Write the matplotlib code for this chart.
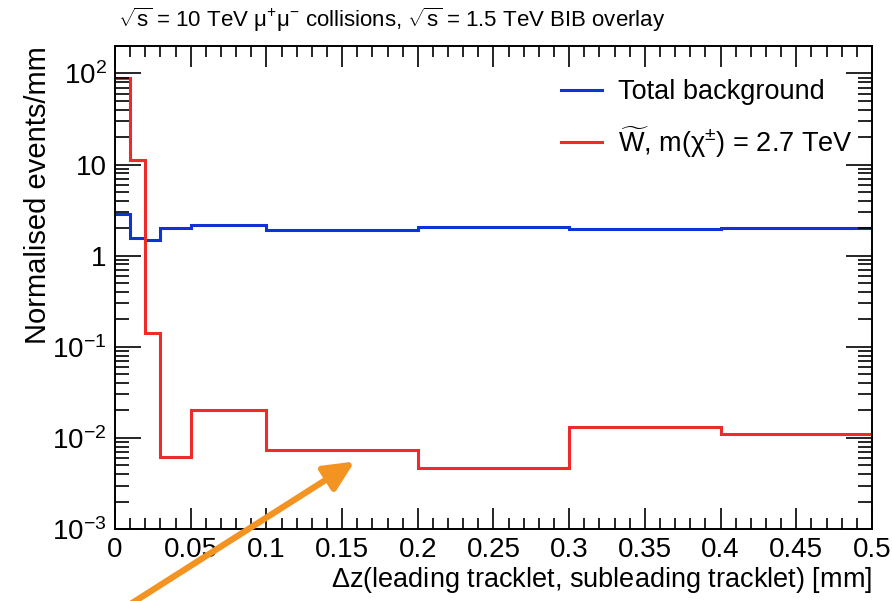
import matplotlib
matplotlib.use("Agg")
import matplotlib.pyplot as plt
from matplotlib.ticker import MultipleLocator, LogLocator, NullFormatter
import numpy as np

plt.rcParams['font.family'] = ['Liberation Sans', 'DejaVu Sans']
plt.rcParams['mathtext.fontset'] = 'custom'
plt.rcParams['mathtext.rm'] = 'Liberation Sans'
plt.rcParams['mathtext.it'] = 'Liberation Sans:italic'

# bin edges and contents
edges = [0, 0.01, 0.02, 0.03, 0.05, 0.1, 0.2, 0.3, 0.4, 0.5]
background = [2.87, 1.56, 1.50, 2.0, 2.15, 1.93, 2.08, 1.96, 2.0]
signal = [88, 11.1, 0.14, 0.0062, 0.020, 0.0073, 0.0047, 0.0131, 0.0109]

xticks = [0, 0.05, 0.1, 0.15, 0.2, 0.25, 0.3, 0.35, 0.4, 0.45, 0.5]
xticklabels = ['0', '0.05', '0.1', '0.15', '0.2', '0.25', '0.3', '0.35', '0.4', '0.45', '0.5']
yticks = [1e-3, 1e-2, 1e-1, 1, 10, 100]
yticklabels = [r'10$^{-3}$', r'10$^{-2}$', r'10$^{-1}$', '1', '10', r'10$^{2}$']

W, H = 892, 601
fig = plt.figure(figsize=(W / 100, H / 100), dpi=100)
ax = fig.add_axes([115 / W, 1 - 529 / H, (872 - 115) / W, (529 - 46) / H])

ax.stairs(background, edges, baseline=None, color='#1033d8', lw=2.2,
          label='Total background')
ax.stairs(signal, edges, baseline=None, color='#ee2a2a', lw=2.2,
          label=r'$\widetilde{\mathrm{W}}$, m($\mathrm{\chi^{\pm}}$) = 2.7 TeV')

ax.set_yscale('log')
ax.set_xlim(0, 0.5)
ax.set_ylim(1e-3, 200)

ax.set_xticks(xticks)
ax.set_xticklabels(xticklabels)
ax.xaxis.set_minor_locator(MultipleLocator(0.01))
ax.set_yticks(yticks)
ax.set_yticklabels(yticklabels)
ax.yaxis.set_minor_locator(LogLocator(base=10, subs=np.arange(2, 10)))
ax.yaxis.set_minor_formatter(NullFormatter())

ax.tick_params(which='both', direction='in', top=True, right=True, width=1.2,
               labelsize=20, colors='black')
ax.tick_params(axis='x', which='major', length=15, pad=6)
ax.tick_params(axis='x', which='minor', length=8)
ax.tick_params(axis='y', which='major', length=19, pad=6)
ax.tick_params(axis='y', which='minor', length=10)
for s in ax.spines.values():
    s.set_linewidth(1.4)

ax.set_xlabel(r'$\Delta$z(leading tracklet, subleading tracklet) [mm]', fontsize=19.5,
              loc='right', labelpad=1)
ax.set_ylabel('Normalised events/mm', fontsize=21, loc='top', labelpad=0)

fig.text(118 / W, 1 - 20 / H,
         r'$\sqrt{\mathrm{s}}$ = 10 TeV $\mathrm{\mu^{+}\mu^{-}}$ collisions, '
         r'$\sqrt{\mathrm{s}}$ = 1.5 TeV BIB overlay',
         fontsize=16, va='center', ha='left')

ax.legend(loc='upper right', bbox_to_anchor=(1.0, 0.97), frameon=False, fontsize=19.5,
          handlelength=1.5, handletextpad=0.6, labelspacing=0.7, borderaxespad=0.3)

# orange annotation arrow drawn over the plot
ax.annotate('', xy=(357, H - 460), xytext=(118, H - 612),
            xycoords='figure pixels', textcoords='figure pixels',
            arrowprops=dict(arrowstyle='-|>,head_length=1.8,head_width=0.85',
                            color='#f39322', lw=4.5),
            annotation_clip=False)

fig.savefig('out.png', dpi=100)
